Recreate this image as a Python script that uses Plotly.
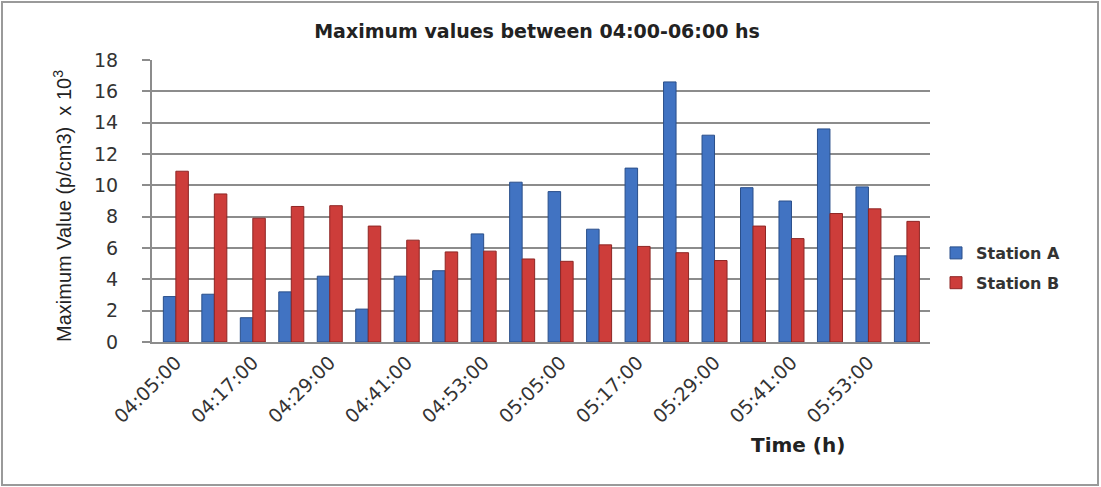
import plotly.graph_objects as go

# Sampling times (every 6 minutes) and the maximum concentrations (x10^3 p/cm3)
times = ["04:05:00", "04:11:00", "04:17:00", "04:23:00", "04:29:00",
         "04:35:00", "04:41:00", "04:47:00", "04:53:00", "04:59:00",
         "05:05:00", "05:11:00", "05:17:00", "05:23:00", "05:29:00",
         "05:35:00", "05:41:00", "05:47:00", "05:53:00", "05:59:00"]
station_a = [2.9, 3.05, 1.55, 3.2, 4.2, 2.1, 4.2, 4.55, 6.9, 10.2,
             9.6, 7.2, 11.1, 16.6, 13.2, 9.85, 9.0, 13.6, 9.9, 5.5]
station_b = [10.9, 9.45, 7.9, 8.65, 8.7, 7.4, 6.5, 5.75, 5.8, 5.3,
             5.15, 6.2, 6.1, 5.7, 5.2, 7.4, 6.6, 8.2, 8.5, 7.7]
shown_ticks = times[::2]
y_ticks = list(range(0, 19, 2))

BLUE = "#4173C2"
RED = "#CD3D3A"

# plot-area geometry in pixels (used to place free-floating elements)
L, R, T, B = 152, 171, 60, 145
W, H = 1101, 487
pw, ph = W - L - R, H - T - B


def px_x(x):
    return (x - L) / pw


def px_y(y):
    return (H - B - y) / ph


fig = go.Figure()
fig.add_trace(go.Bar(
    x=times, y=station_a, name="Station A", legendgroup="a",
    marker=dict(color=BLUE, line=dict(color="#2A4F8A", width=1)),
))
fig.add_trace(go.Bar(
    x=times, y=station_b, name="Station B", legendgroup="b",
    marker=dict(color=RED, line=dict(color="#8E2624", width=1)),
))

fig.update_layout(
    width=W, height=H,
    margin=dict(l=L, r=R, t=T, b=B),
    paper_bgcolor="white", plot_bgcolor="white",
    barmode="group", bargap=0.35, bargroupgap=0.0,
    font=dict(family="DejaVu Sans", color="#333333"),
    title=dict(
        text="Maximum values between 04:00-06:00 hs",
        x=537 / W, xanchor="center", y=1 - 31 / H, yanchor="middle",
        font=dict(family="DejaVu Sans", size=19, color="#222222", weight="bold"),
    ),
    legend=dict(
        x=px_x(936), xanchor="left", y=px_y(236), yanchor="top",
        font=dict(family="DejaVu Sans", size=16, color="#333333", weight="bold"),
        traceorder="grouped", tracegroupgap=6, bgcolor="rgba(0,0,0,0)",
    ),
    xaxis=dict(
        type="category", range=[-0.62, 19.6],
        tickmode="array", tickvals=shown_ticks, ticktext=shown_ticks,
        tickangle=-45, tickfont=dict(size=19, color="#333333"),
        showgrid=False, showline=True, linecolor="#8C8C8C", linewidth=2,
        ticks="", zeroline=False,
    ),
    yaxis=dict(
        range=[0, 18], tickvals=y_ticks, ticks="outside", ticklen=8,
        tickcolor="#8C8C8C", tickwidth=1.5, ticklabelstandoff=20,
        tickfont=dict(size=19, color="#333333"),
        showgrid=True, gridcolor="#8C8C8C", gridwidth=2,
        showline=True, linecolor="#8C8C8C", linewidth=2, zeroline=False,
    ),
    showlegend=True,
)

# axis titles
fig.add_annotation(
    text="Maximum Value (p/cm3)  x 10<sup>3</sup>",
    xref="paper", yref="paper", x=px_x(62), y=px_y(206),
    xanchor="center", yanchor="middle", textangle=-90, showarrow=False,
    font=dict(family="Liberation Sans", size=20, color="#222222"),
)
fig.add_annotation(
    text="Time (h)", xref="paper", yref="paper", x=px_x(798), y=px_y(445),
    xanchor="center", yanchor="middle", showarrow=False,
    font=dict(family="DejaVu Sans", size=20, color="#222222", weight="bold"),
)

# chart frame
fig.add_shape(
    type="rect", xref="paper", yref="paper",
    x0=px_x(2), x1=px_x(1098), y0=px_y(485), y1=px_y(2),
    line=dict(color="#9A9A9A", width=2), fillcolor="rgba(0,0,0,0)", layer="below",
)

fig.write_html("out.html")
